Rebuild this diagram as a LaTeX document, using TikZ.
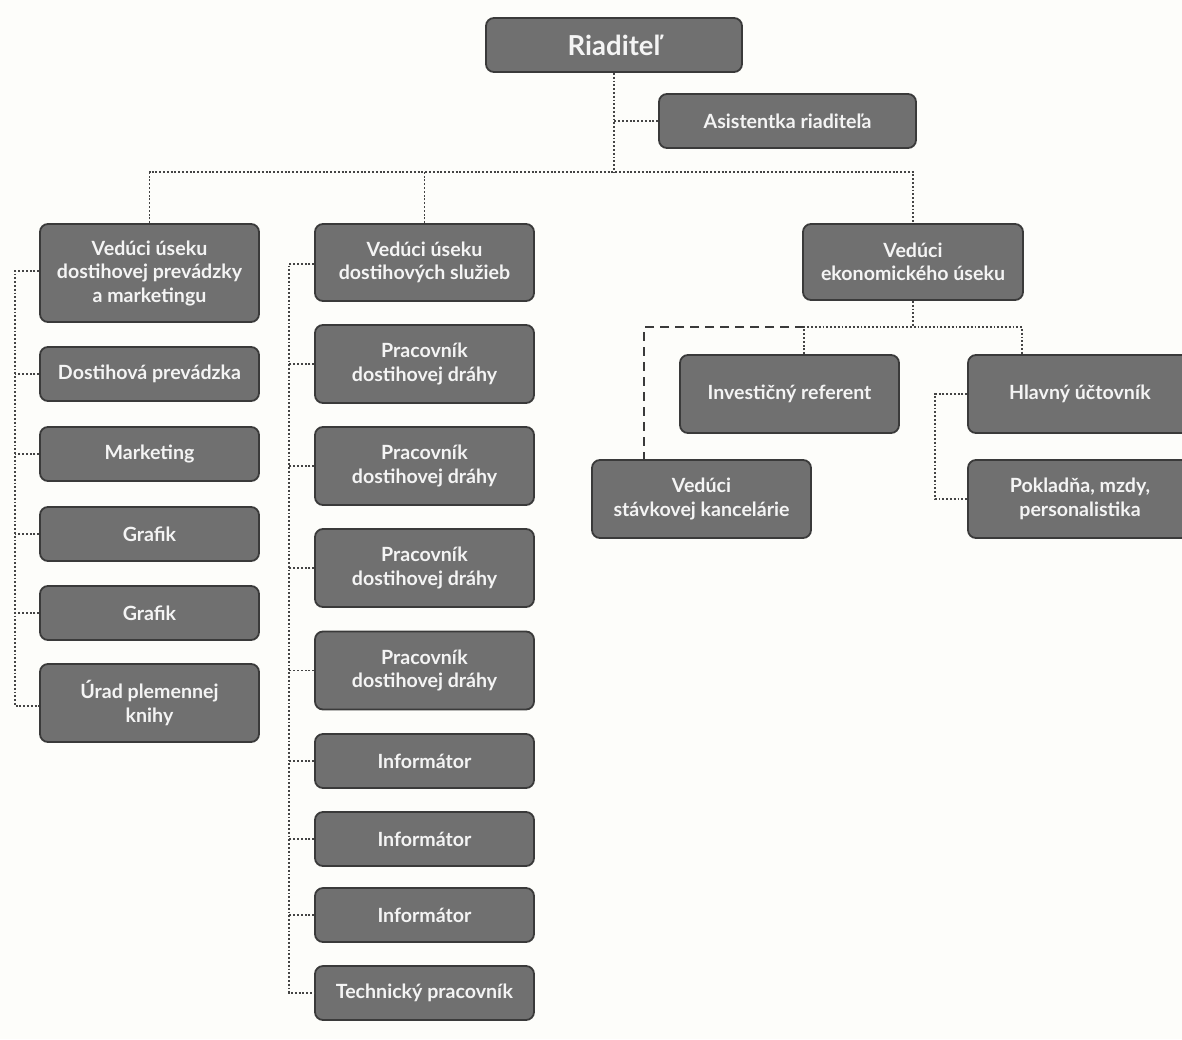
\documentclass[tikz,border=0pt]{standalone}
\usepackage{fontspec}
\setmainfont{Lato}
\definecolor{boxfill}{HTML}{707070}
\definecolor{boxline}{HTML}{3A3A3A}
\definecolor{linecol}{HTML}{444444}
\definecolor{bgcol}{HTML}{FDFDFA}
\definecolor{txtcol}{HTML}{F4F4F4}
\tikzset{
  box/.style={draw=boxline, fill=boxfill, rounded corners=8pt, line width=1.8pt,
    text=txtcol, font=\bfseries\fontsize{19.6}{23.5}\selectfont, align=center,
    inner sep=0pt, minimum width=219pt},
  h54/.style={minimum height=54pt},
  h78/.style={minimum height=78pt},
  dotline/.style={draw=linecol, line width=1.9pt, dash pattern=on 1.9pt off 1.9pt},
  dashline/.style={draw=boxline, line width=2.2pt, dash pattern=on 9pt off 6pt}
}
\begin{document}
\begin{tikzpicture}[x=1pt,y=-1pt]
\useasboundingbox (0,0) rectangle (1182,1039);
\fill[bgcol] (0,0) rectangle (1182,1039);
\clip (0,0) rectangle (1182,1039);

% top
\node[box, minimum width=256pt, minimum height=54pt, font=\bfseries\fontsize{27.5}{30}\selectfont] (riad) at (614,45) {Riaditeľ};
\node[box, minimum width=257pt, h54] (asist) at (787.5,121) {Asistentka riaditeľa};

% left column
\node[box, minimum height=98pt] (v1) at (149.5,273) {Vedúci úseku\\dostihovej prevádzky\\a marketingu};
\node[box, h54] (dp) at (149.5,374) {Dostihová prevádzka};
\node[box, h54] (mk) at (149.5,454) {Marketing};
\node[box, h54] (gr1) at (149.5,534) {Grafik};
\node[box, h54] (gr2) at (149.5,613) {Grafik};
\node[box, h78] (ur) at (149.5,703) {Úrad plemennej\\knihy};

% middle column
\node[box, minimum height=77pt] (v2) at (424.5,262.5) {Vedúci úseku\\dostihových služieb};
\node[box, h78] (p1) at (424.5,364) {Pracovník\\dostihovej dráhy};
\node[box, h78] (p2) at (424.5,466) {Pracovník\\dostihovej dráhy};
\node[box, h78] (p3) at (424.5,568) {Pracovník\\dostihovej dráhy};
\node[box, h78] (p4) at (424.5,670.5) {Pracovník\\dostihovej dráhy};
\node[box, h54] (i1) at (424.5,761) {Informátor};
\node[box, h54] (i2) at (424.5,839) {Informátor};
\node[box, h54] (i3) at (424.5,915) {Informátor};
\node[box, h54] (tp) at (424.5,993) {Technický pracovník};

% right part
\node[box, minimum width=220pt, minimum height=76pt] (v3) at (913,262) {Vedúci\\ekonomického úseku};
\node[box, h78] (ir) at (789.5,394) {Investičný referent};
\node[box, minimum width=224pt, h78] (hu) at (1080,394) {Hlavný účtovník};
\node[box, h78] (vs) at (701.5,499) {Vedúci\\stávkovej kancelárie};
\node[box, minimum width=224pt, h78] (pm) at (1080,499) {Pokladňa, mzdy,\\personalistika};

% coordinates for spines
\coordinate (bus) at (0,172);
\coordinate (lsp) at (15,0);
\coordinate (msp) at (289,0);
\coordinate (ebus) at (0,327);
\coordinate (dsh) at (644,327);
\coordinate (rsp) at (935,0);

% connectors top
\draw[dotline] (riad.south) -- (riad.south |- bus);
\draw[dotline] (asist.west) -- (asist.west -| riad.south);
\draw[dotline] (v1.north) -- (v1.north |- bus) -| (v3.north);
\draw[dotline] (v2.north) -- (v2.north |- bus);

% left spine
\draw[dotline] (v1.west |- 0,271) -- (lsp |- 0,271) -- (lsp |- 0,706) -- (ur.west |- 0,706);
\foreach \n in {dp,mk,gr1,gr2} \draw[dotline] (\n.west) -- (\n.west -| lsp);

% middle spine
\draw[dotline] (v2.west |- 0,264) -- (msp |- 0,264) -- (msp |- 0,993) -- (tp.west);
\foreach \n in {p1,p2,p3,p4,i1,i2,i3} \draw[dotline] (\n.west) -- (\n.west -| msp);

% economic section
\draw[dotline] (v3.south) -- (v3.south |- ebus);
\draw[dotline] (ir.north -| 804,0) -- (ebus -| 804,0) -- (ebus -| 1022,0) -- (hu.north -| 1022,0);
\draw[dashline] (ebus -| 804,0) -- (dsh) -- (vs.north -| dsh);
\draw[dotline] (hu.west) -- (hu.west -| rsp) -- (pm.west -| rsp) -- (pm.west);
\end{tikzpicture}
\end{document}
